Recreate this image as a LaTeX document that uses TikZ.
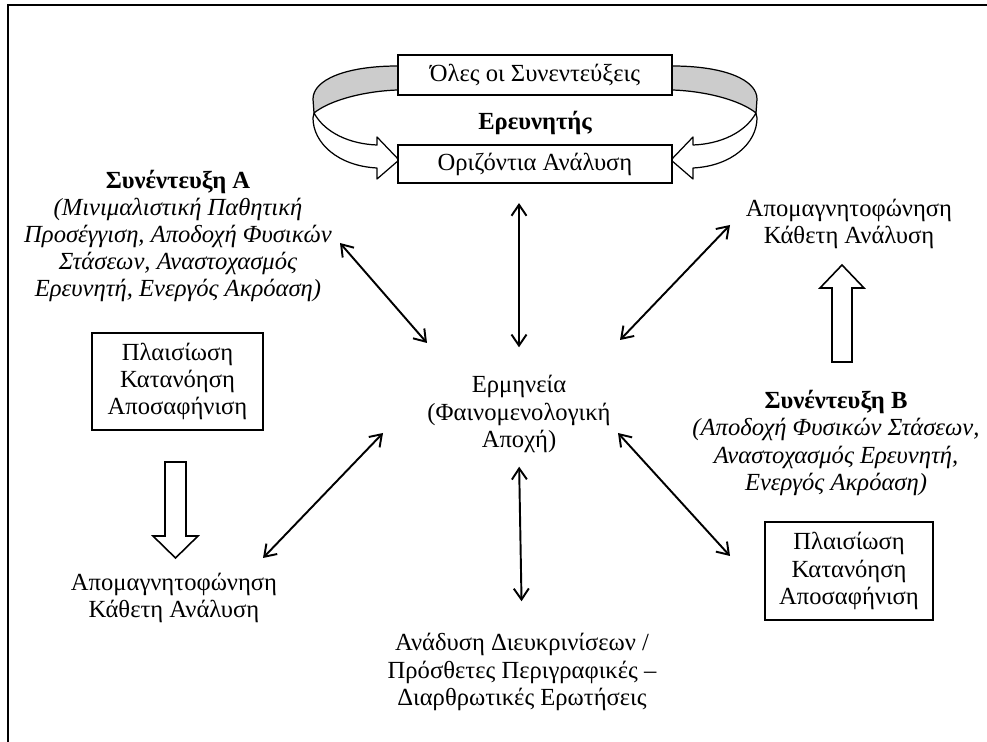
\documentclass[tikz,border=0pt]{standalone}
\usepackage{fontspec}
\setmainfont{Liberation Serif}
\usetikzlibrary{arrows.meta}
\usepackage{xcolor}
\definecolor{ribbongray}{HTML}{CCCCCC}
\setlength{\lineskiplimit}{-20pt}

\tikzset{
  lbl/.style={align=center, font=\fontsize{14}{15.5}\selectfont},
  box/.style={lbl, draw, line width=0.9pt, fill=white, inner sep=0pt},
  dbl/.style={{Straight Barb[length=2.2mm,width=3mm]}-{Straight Barb[length=2.2mm,width=3mm]}, line width=1.1pt},
  ribbon/.style={draw, line width=0.7pt, line join=round},
  hollow/.style={draw, fill=white, line width=0.9pt, line join=miter},
}

\begin{document}
\begin{tikzpicture}[x=0.2mm, y=-0.2mm]
\useasboundingbox (0,0) rectangle (987,742);
\draw[line width=1pt] (987,5) -- (8,5) -- (8,742);

% curved arrows round the researcher
\foreach \s in {1,-1}{
  \begin{scope}[shift={(535,0)}, xscale=\s]
    \draw[ribbon, fill=ribbongray] (-137,66) .. controls (-190,66) and (-222,80) .. (-222,99)
      -- (-221,113) .. controls (-205,100) and (-170,91) .. (-137,90) -- cycle;
    \draw[ribbon, fill=white] (-221,113) .. controls (-210,133) and (-185,144) .. (-158,145)
      -- (-158,137) -- (-136,160) -- (-158,179) -- (-158,168)
      .. controls (-197,166) and (-222,143) .. (-222,118) -- cycle;
  \end{scope}
}

\node[box, minimum width=54.8mm, minimum height=8mm] (oles) at (535,75) {Όλες οι Συνεντεύξεις};
\node[lbl, font=\fontsize{14}{15.5}\selectfont\bfseries] (ereun) at (535,123) {Ερευνητής};
\node[box, minimum width=54.8mm, minimum height=7.7mm] (oriz) at (535,164) {Οριζόντια Ανάλυση};

% interview A
\node[lbl] (synA) at (178,236) {\textbf{Συνέντευξη Α}\\
  \textit{(Μινιμαλιστική Παθητική}\\
  \textit{Προσέγγιση, Αποδοχή Φυσικών}\\
  \textit{Στάσεων, Αναστοχασμός}\\
  \textit{Ερευνητή, Ενεργός Ακρόαση)}};
\node[box, minimum width=34.2mm, minimum height=19.4mm] (plA) at (177.5,381.5) {Πλαισίωση\\Κατανόηση\\Αποσαφήνιση};
\node[lbl] (apoA) at (174,598) {Απομαγνητοφώνηση\\Κάθετη Ανάλυση};

% interview B
\node[lbl] (apoB) at (849,224) {Απομαγνητοφώνηση\\Κάθετη Ανάλυση};
\node[lbl] (synB) at (836,443) {\textbf{Συνέντευξη Β}\\
  \textit{(Αποδοχή Φυσικών Στάσεων,}\\
  \textit{Αναστοχασμός Ερευνητή,}\\
  \textit{Ενεργός Ακρόαση)}};
\node[box, minimum width=33.6mm, minimum height=19.6mm] (plB) at (849,571) {Πλαισίωση\\Κατανόηση\\Αποσαφήνιση};

% centre
\node[lbl] (erm) at (519,414) {Ερμηνεία\\(Φαινομενολογική\\Αποχή)};
\node[lbl] (anad) at (522,672) {Ανάδυση Διευκρινίσεων /\\Πρόσθετες Περιγραφικές --\\Διαρθρωτικές Ερωτήσεις};

% block arrows
\draw[hollow] (165,462) -- (186,462) -- (186,536) -- (198,536) -- (175.5,558) -- (153,536) -- (165,536) -- cycle;
\draw[hollow] (832,362) -- (852,362) -- (852,288) -- (864,288) -- (842,265) -- (820,288) -- (832,288) -- cycle;

% arrow ends
\coordinate (ulA) at (340,243); \coordinate (ulE) at (427,343);
\coordinate (urB) at (730,225); \coordinate (urE) at (620,340);
\coordinate (llA) at (263,558); \coordinate (llE) at (383,433);
\coordinate (lrB) at (730,556); \coordinate (lrE) at (618,433);

\draw[dbl, shorten <=3.8mm, shorten >=4.4mm] (erm.north |- oriz.south) -- (erm.north);
\draw[dbl, shorten <=1.6mm, shorten >=5.2mm] (erm.south) -- (anad.north);
\draw[dbl] (ulA) -- (ulE);
\draw[dbl] (urB) -- (urE);
\draw[dbl] (llA) -- (llE);
\draw[dbl] (lrB) -- (lrE);
\end{tikzpicture}
\end{document}
